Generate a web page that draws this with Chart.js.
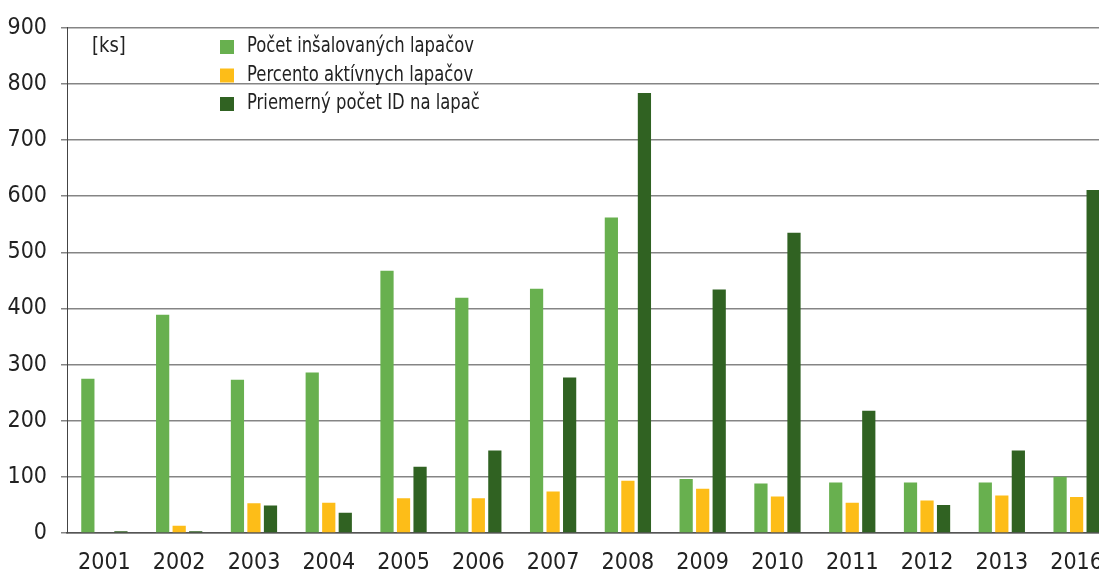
<!DOCTYPE html>
<html>
<head>
<meta charset="utf-8">
<script src="https://cdn.jsdelivr.net/npm/chart.js@4.4.1/dist/chart.umd.min.js"></script>
<style>
  html, body { margin: 0; padding: 0; width: 1099px; height: 572px; overflow: hidden; background: #fff; }
  #wrap { width: 1114px; height: 572px; }
</style>
</head>
<body>
<div id="wrap"><canvas id="c" width="1114" height="572"></canvas></div>
<script>
const categories = ['2001','2002','2003','2004','2005','2006','2007','2008','2009','2010','2011','2012','2013','2016'];
const seriesNames = ['Počet inšalovaných lapačov', 'Percento aktívnych lapačov', 'Priemerný počet ID na lapač'];
const installedTraps = [275, 389, 273, 286, 467, 419, 435, 562, 96, 88, 90, 90, 90, 100];
const activePercent = [0, 13, 53, 54, 62, 62, 74, 93, 79, 65, 54, 58, 67, 64];
const avgIdPerTrap = [3, 3, 49, 36, 118, 147, 277, 784, 434, 535, 218, 50, 147, 611];
const yTicks = { min: 0, max: 900, step: 100 };
const unitLabel = '[ks]';

const FONT = '"Liberation Sans Narrow", "DejaVu Sans Condensed", "Liberation Sans", sans-serif';
const colors = ['#68B04F', '#FDBD18', '#306222'];

const legendPlugin = {
  id: 'innerLegend',
  afterDatasetsDraw(chart) {
    const ctx = chart.ctx;
    ctx.save();
    ctx.font = '21px ' + FONT;
    ctx.textBaseline = 'middle';
    ctx.textAlign = 'left';
    const drawNarrow = (txt, x, y, s) => {
      ctx.save();
      ctx.translate(x, y);
      ctx.scale(s, 1);
      ctx.fillText(txt, 0, 0);
      ctx.restore();
    };
    ctx.fillStyle = '#222';
    drawNarrow(unitLabel, 92, 47, 0.95);
    chart.data.datasets.forEach((ds, i) => {
      const y = 47 + i * 28.5;
      ctx.fillStyle = ds.backgroundColor;
      ctx.fillRect(220, y - 7, 14, 14);
      ctx.fillStyle = '#222';
      drawNarrow(ds.label, 247, y, 0.87);
    });
    ctx.restore();
  }
};

new Chart(document.getElementById('c'), {
  type: 'bar',
  data: {
    labels: categories,
    datasets: [
      { label: seriesNames[0], data: installedTraps, backgroundColor: colors[0] },
      { label: seriesNames[1], data: activePercent, backgroundColor: colors[1] },
      { label: seriesNames[2], data: avgIdPerTrap, backgroundColor: colors[2] }
    ]
  },
  options: {
    responsive: false,
    animation: false,
    devicePixelRatio: 1,
    layout: { padding: { top: 26, right: 0, left: 0, bottom: 0 } },
    datasets: { bar: { categoryPercentage: 0.663, barPercentage: 0.8 } },
    plugins: { legend: { display: false }, tooltip: { enabled: false } },
    scales: {
      x: {
        grid: { display: false, drawTicks: false },
        border: { color: '#555', width: 1.5 },
        ticks: { color: '#222', font: { family: FONT, size: 23 }, padding: 16, maxRotation: 0 },
        afterFit(scale) { scale.height = 39; scale.paddingLeft = 0; scale.paddingRight = 0; }
      },
      y: {
        min: yTicks.min, max: yTicks.max,
        ticks: { stepSize: yTicks.step, color: '#222', font: { family: FONT, size: 23 }, padding: 14 },
        grid: { color: '#858585', lineWidth: 1.5, tickLength: 6, drawTicks: true },
        border: { color: '#444', width: 1 },
        afterFit(scale) { scale.width = 67; }
      }
    }
  },
  plugins: [legendPlugin]
});
</script>
</body>
</html>
